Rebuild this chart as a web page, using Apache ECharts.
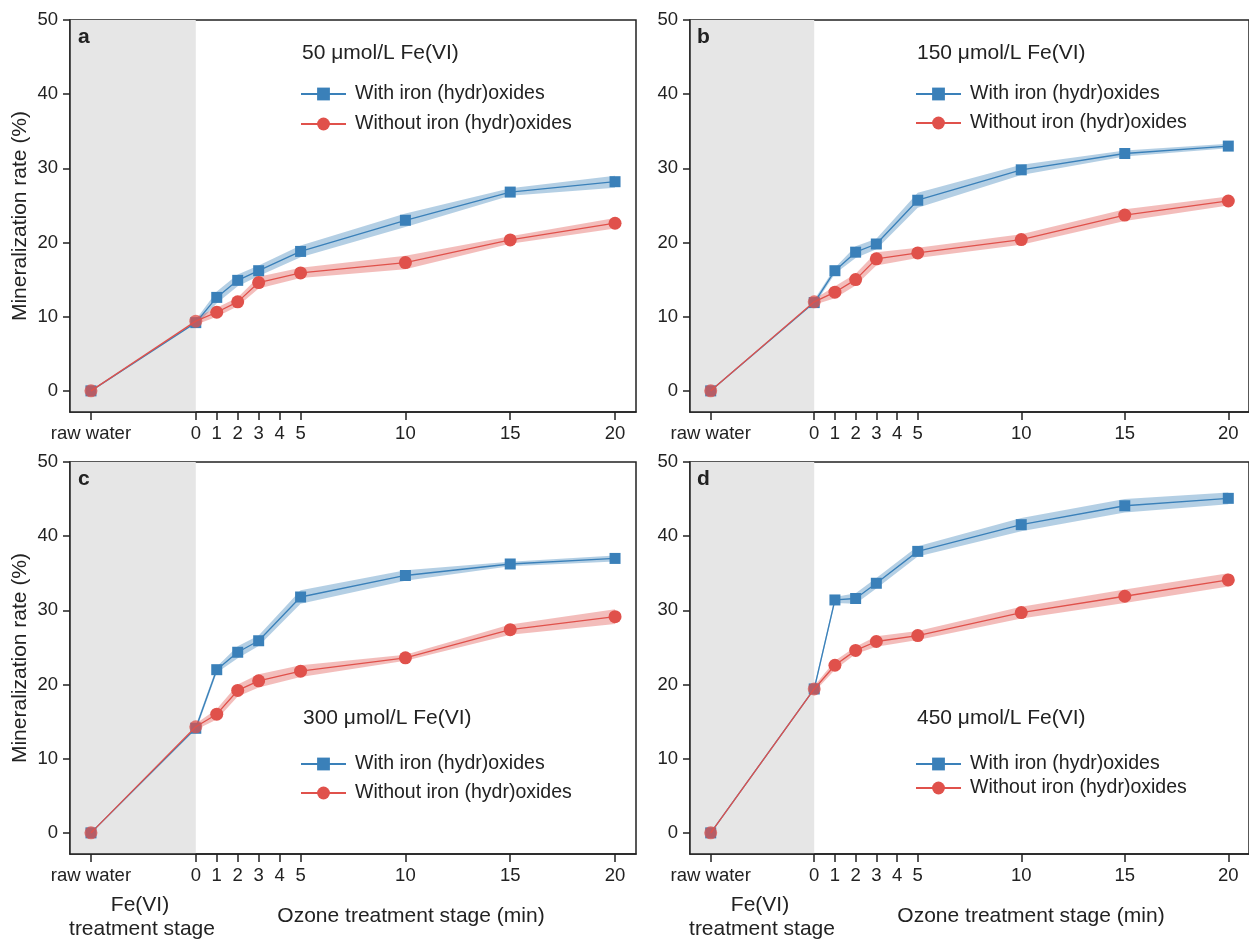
<!DOCTYPE html>
<html><head><meta charset="utf-8">
<script src="https://cdn.jsdelivr.net/npm/echarts@6/dist/echarts.min.js"></script>
<style>html,body{margin:0;padding:0;background:#fff}#c{width:1249px;height:939px}</style>
</head><body><div id="c"></div>
<script>
const xVals = [-5, 0, 1, 2, 3, 5, 10, 15, 20];
const xTicks = [-5, 0, 1, 2, 3, 4, 5, 10, 15, 20];
const yTicks = [0, 10, 20, 30, 40, 50];
const rawLabel = 'raw water';
const nameWith = 'With iron (hydr)oxides';
const nameWithout = 'Without iron (hydr)oxides';
const panelLetters = ['a', 'b', 'c', 'd'];
const panelTitles = ['50 μmol/L Fe(VI)', '150 μmol/L Fe(VI)', '300 μmol/L Fe(VI)', '450 μmol/L Fe(VI)'];

const aWith = [0, 9.2, 12.6, 14.9, 16.2, 18.8, 23.0, 26.8, 28.2];
const aWithErr = [0, 0.4, 0.8, 0.8, 0.7, 0.8, 0.9, 0.5, 0.8];
const aWithout = [0, 9.4, 10.6, 12.0, 14.6, 15.9, 17.3, 20.35, 22.6];
const aWithoutErr = [0, 0.5, 0.6, 0.6, 0.8, 0.7, 0.9, 0.5, 0.7];

const bWith = [0, 11.9, 16.2, 18.7, 19.8, 25.7, 29.8, 32.0, 33.0];
const bWithErr = [0, 0.4, 0.4, 0.8, 0.7, 1.0, 0.7, 0.4, 0.3];
const bWithout = [0, 12.0, 13.3, 15.0, 17.8, 18.6, 20.4, 23.7, 25.6];
const bWithoutErr = [0, 0.4, 0.8, 0.8, 0.9, 0.7, 0.7, 0.8, 0.6];

const cWith = [0, 14.1, 22.0, 24.35, 25.9, 31.8, 34.7, 36.25, 37.0];
const cWithErr = [0, 0.4, 0.4, 0.8, 0.7, 0.9, 0.7, 0.3, 0.4];
const cWithout = [0, 14.3, 16.0, 19.2, 20.5, 21.8, 23.6, 27.4, 29.15];
const cWithoutErr = [0, 0.4, 0.7, 0.8, 0.9, 0.8, 0.4, 0.7, 1.0];

const dWith = [0, 19.4, 31.4, 31.6, 33.65, 37.95, 41.55, 44.1, 45.1];
const dWithErr = [0, 0.4, 0.4, 0.7, 0.7, 0.7, 0.9, 0.9, 0.8];
const dWithout = [0, 19.4, 22.6, 24.6, 25.8, 26.6, 29.7, 31.9, 34.1];
const dWithoutErr = [0, 0.4, 0.6, 0.5, 0.7, 0.6, 0.8, 0.9, 0.9];

const panels = [
  {w: aWith, we: aWithErr, wo: aWithout, woe: aWithoutErr},
  {w: bWith, we: bWithErr, wo: bWithout, woe: bWithoutErr},
  {w: cWith, we: cWithErr, wo: cWithout, woe: cWithoutErr},
  {w: dWith, we: dWithErr, wo: dWithout, woe: dWithoutErr}
];

const FONT = '"Liberation Sans", Arial, sans-serif';
const BLUE = '#3a80b9';
const RED = '#e0514b';
const grids = [
  {left: 70, top: 20, width: 566, height: 392},
  {left: 690, top: 20, width: 566, height: 392},
  {left: 70, top: 462, width: 566, height: 392},
  {left: 690, top: 462, width: 566, height: 392}
];
const legendPos = [
  {left: 300, top: 84, gap: 10},
  {left: 915, top: 84, gap: 9},
  {left: 300, top: 754, gap: 9},
  {left: 915, top: 754, gap: 4}
];
const titlePos = [
  {left: 302, top: 43}, {left: 917, top: 43}, {left: 303, top: 708}, {left: 917, top: 708}
];
const letterPos = [
  {left: 78, top: 27}, {left: 697, top: 27}, {left: 78, top: 469}, {left: 697, top: 469}
];

const option = {
  animation: false,
  textStyle: {fontFamily: FONT},
  grid: grids.map(g => Object.assign({show: true, borderColor: '#222', borderWidth: 1.5, backgroundColor: 'transparent'}, g)),
  xAxis: grids.map((g, k) => ({
    type: 'value', gridIndex: k, min: -6, max: 21, z: 10,
    splitLine: {show: false},
    axisLine: {show: true, onZero: false, lineStyle: {color: '#222', width: 1.5}},
    axisTick: {show: true, length: 8, customValues: xTicks, lineStyle: {color: '#222', width: 1.5}},
    axisLabel: {customValues: xTicks, margin: 12, fontSize: 18.5, color: '#222', fontFamily: FONT,
      formatter: v => (v === -5 ? rawLabel : String(v))}
  })),
  yAxis: grids.map((g, k) => ({
    type: 'value', gridIndex: k, min: -2.85, max: 50, z: 10,
    name: (k % 2 === 0) ? 'Mineralization rate (%)' : '',
    nameLocation: 'middle', nameGap: 39,
    nameTextStyle: {fontSize: 21, color: '#222', fontFamily: FONT},
    splitLine: {show: false},
    axisLine: {show: true, onZero: false, lineStyle: {color: '#222', width: 1.5}},
    axisTick: {show: true, length: 7, customValues: yTicks, lineStyle: {color: '#222', width: 1.5}},
    axisLabel: {customValues: yTicks, margin: 12, fontSize: 18.5, color: '#222', fontFamily: FONT}
  })),
  title: [],
  legend: legendPos.map(p => ({
    left: p.left, top: p.top, orient: 'vertical', itemGap: p.gap, itemWidth: 45, itemHeight: 16,
    padding: 0, data: [nameWith, nameWithout],
    textStyle: {fontSize: 19.5, color: '#222', fontFamily: FONT, padding: [0, 0, 0, 4]}
  })),
  series: [],
  graphic: []
};

panelTitles.forEach((t, k) => {
  option.title.push({text: t, left: titlePos[k].left, top: titlePos[k].top, padding: 0,
    textStyle: {fontSize: 21, fontWeight: 'normal', color: '#222', fontFamily: FONT}});
  option.title.push({text: panelLetters[k], left: letterPos[k].left, top: letterPos[k].top, padding: 0,
    textStyle: {fontSize: 21, fontWeight: 'bold', color: '#222', fontFamily: FONT}});
});

function bandSeries(k, vals, errs, color, nm) {
  const rows = xVals.map((x, i) => [x, vals[i] - errs[i], vals[i] + errs[i]]).slice(1);
  return {
    type: 'custom', name: nm, xAxisIndex: k, yAxisIndex: k, silent: true, z: 2,
    encode: {x: 0, y: [1, 2]},
    data: rows,
    renderItem: function (params, api) {
      if (params.dataIndex !== 0) return null;
      const upper = rows.map(r => api.coord([r[0], r[2]]));
      const lower = rows.map(r => api.coord([r[0], r[1]])).reverse();
      return {type: 'polygon', shape: {points: upper.concat(lower)}, style: {fill: color}};
    }
  };
}

panels.forEach((p, k) => {
  option.series.push({type: 'line', name: 'bg' + k, xAxisIndex: k, yAxisIndex: k, data: [],
    silent: true, z: 1,
    markArea: {silent: true, itemStyle: {color: '#e6e6e6'}, data: [[{xAxis: -6}, {xAxis: 0}]]}});
  option.series.push(bandSeries(k, p.w, p.we, 'rgba(58,128,185,0.38)', 'bw' + k));
  option.series.push(bandSeries(k, p.wo, p.woe, 'rgba(224,81,75,0.38)', 'br' + k));
  option.series.push({type: 'line', name: nameWith, xAxisIndex: k, yAxisIndex: k, z: 5,
    data: xVals.map((x, i) => [x, p.w[i]]),
    symbol: 'rect', symbolSize: 11, color: BLUE,
    lineStyle: {color: BLUE, width: 1.3}, itemStyle: {color: BLUE}});
  option.series.push({type: 'line', name: nameWithout, xAxisIndex: k, yAxisIndex: k, z: 6,
    data: xVals.map((x, i) => (i < 2 ? {value: [x, p.wo[i]], itemStyle: {opacity: 0.75}} : [x, p.wo[i]])),
    symbol: 'circle', symbolSize: 13, color: RED,
    lineStyle: {color: RED, width: 1.3}, itemStyle: {color: RED}});
});

// bottom x-axis stage labels
[196, 816].forEach(zero => {
  option.graphic.push({type: 'text', x: zero - 56, y: 905, style: {
    text: 'Fe(VI)', font: '21px ' + FONT, fill: '#222', align: 'center', verticalAlign: 'middle'}});
  option.graphic.push({type: 'text', x: zero - 54, y: 929, style: {
    text: 'treatment stage', font: '21px ' + FONT, fill: '#222', align: 'center', verticalAlign: 'middle'}});
  option.graphic.push({type: 'text', x: zero + 215, y: 916, style: {
    text: 'Ozone treatment stage (min)', font: '21px ' + FONT, fill: '#222', align: 'center', verticalAlign: 'middle'}});
});

const chart = echarts.init(document.getElementById('c'), null, {renderer: 'canvas'});
chart.setOption(option);
</script>
</body></html>
